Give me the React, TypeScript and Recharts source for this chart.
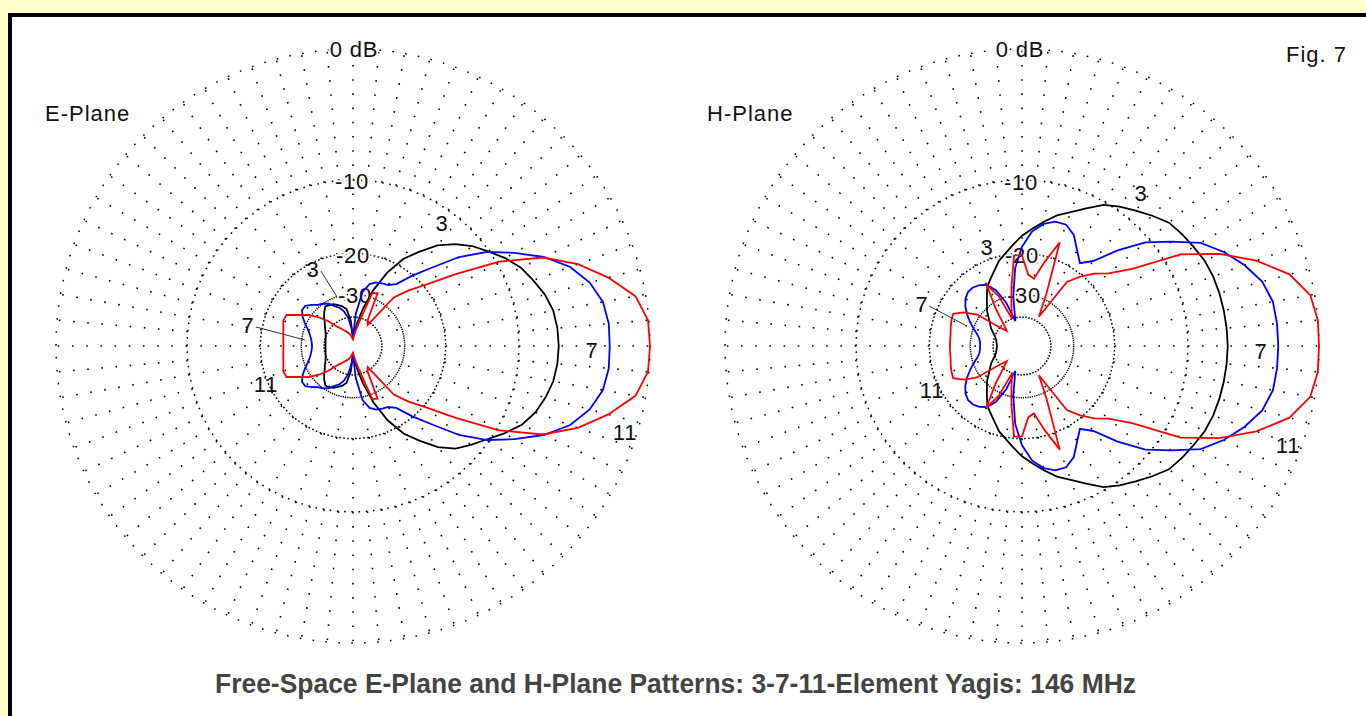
import React from "react";
import {
  RadarChart,
  Radar,
  PolarGrid,
  PolarAngleAxis,
  PolarRadiusAxis,
} from "recharts";

// bearing in degrees, counter-clockwise from boresight (pointing right)
const ANGLES = [
  0, 5, 10, 15, 20, 25, 30, 35, 40, 45, 50, 55, 60, 65, 70, 75, 80, 85, 90,
  95, 100, 105, 110, 115, 120, 125, 130, 135, 140, 145, 150, 155, 160, 165,
  170, 175, 180, 185, 190, 195, 200, 205, 210, 215, 220, 225, 230, 235, 240,
  245, 250, 255, 260, 265, 270, 275, 280, 285, 290, 295, 300, 305, 310, 315,
  320, 325, 330, 335, 340, 345, 350, 355,
];

// gain in dB relative to the 11-element peak
const E_PLANE_3EL = [
  -6.3, -6.35, -6.5, -6.9, -7.5, -8.1, -9.0, -10.1, -11.1, -12.4, -14.0, -16.3,
  -18.6, -22.3, -27.6, -35.0, -44.0, -52.0, -62.0, -42.0, -35.5, -34.0, -33.0,
  -32.0, -31.5, -31.2, -32.5, -34.0, -35.8, -37.0, -38.3, -39.2, -39.9, -40.3,
  -40.6, -40.8, -40.8, -40.8, -40.6, -40.3, -39.9, -39.2, -38.3, -37.0, -35.8,
  -34.0, -32.5, -31.2, -31.5, -32.0, -33.0, -34.0, -35.5, -42.0, -62.0, -52.0,
  -44.0, -35.0, -27.4, -22.1, -18.5, -16.2, -13.9, -12.3, -11.3, -10.3, -9.1,
  -8.0, -7.3, -6.85, -6.5, -6.35,
];
const E_PLANE_7EL = [
  -2.5, -2.5, -2.7, -3.3, -4.3, -5.9, -8.0, -10.2, -13.1, -17.0, -20.2, -23.5,
  -24.7, -25.0, -25.4, -26.3, -29.0, -38.0, -60.0, -48.0, -40.0, -36.0, -34.0,
  -32.8, -31.0, -30.0, -29.3, -28.0, -26.8, -26.8, -28.0, -29.6, -31.3, -32.5,
  -33.3, -33.8, -34.0, -33.8, -33.3, -32.5, -31.3, -29.6, -28.0, -26.8, -26.8,
  -28.0, -29.3, -30.0, -31.0, -32.8, -34.0, -36.0, -40.0, -48.0, -60.0, -38.0,
  -29.0, -26.3, -25.4, -25.0, -24.7, -23.5, -20.2, -17.0, -13.1, -10.2, -8.0,
  -5.9, -4.3, -3.3, -2.7, -2.5,
];
const E_PLANE_11EL = [
  0.0, -0.05, -0.6, -2.0, -3.7, -6.0, -9.7, -14.8, -19.5, -22.8, -26.5, -42.0,
  -40.0, -28.0, -28.5, -42.0, -50.0, -58.0, -65.0, -62.0, -58.0, -55.0, -52.0,
  -50.0, -48.0, -45.0, -42.0, -36.5, -32.5, -29.2, -26.9, -24.0, -23.8, -24.3,
  -24.6, -24.8, -24.9, -24.8, -24.6, -24.3, -23.8, -24.0, -26.9, -29.2, -32.5,
  -36.5, -42.0, -45.0, -48.0, -50.0, -52.0, -55.0, -58.0, -62.0, -65.0, -58.0,
  -50.0, -42.0, -28.5, -28.0, -40.0, -42.0, -26.5, -22.8, -19.5, -14.8, -9.7,
  -6.0, -3.7, -2.0, -0.6, -0.05,
];

const H_PLANE_3EL = [
  -6.3, -6.33, -6.37, -6.42, -6.5, -6.65, -6.95, -7.2, -7.5, -8.2, -8.9, -9.55,
  -10.3, -11.5, -12.6, -13.5, -14.7, -15.9, -17.0, -18.4, -19.7, -20.8, -22.4,
  -23.8, -25.0, -27.1, -29.1, -30.8, -33.0, -34.8, -36.3, -38.2, -40.0, -41.2,
  -41.8, -42.2, -42.4, -42.2, -41.8, -41.2, -40.0, -38.2, -36.3, -34.8, -33.0,
  -30.8, -29.1, -27.1, -25.0, -23.8, -22.4, -20.8, -19.7, -18.4, -17.0, -15.9,
  -14.7, -13.5, -12.6, -11.5, -10.3, -9.55, -8.9, -8.2, -7.5, -7.2, -6.95,
  -6.65, -6.5, -6.42, -6.37, -6.33,
];
const H_PLANE_7EL = [
  -2.53, -2.55, -2.63, -3.05, -3.9, -4.95, -6.25, -8.4, -10.5, -13.5, -16.9,
  -18.5, -17.0, -15.2, -14.3, -14.35, -15.0, -16.3, -18.8, -22.9, -30.5, -42.0,
  -32.0, -27.0, -24.7, -23.8, -23.3, -23.3, -23.9, -25.0, -26.5, -28.2, -30.0,
  -31.8, -33.0, -33.5, -33.6, -33.5, -33.0, -31.8, -30.0, -28.2, -26.5, -25.0,
  -23.9, -23.3, -23.3, -23.8, -24.7, -27.0, -32.0, -42.0, -30.5, -22.9, -18.8,
  -16.3, -15.0, -14.35, -14.3, -15.2, -17.0, -18.5, -16.9, -13.5, -10.5, -8.4,
  -6.25, -4.95, -3.9, -3.05, -2.63, -2.55,
];
const H_PLANE_11EL = [
  0.0, 0.0, -0.25, -1.2, -3.0, -5.3, -8.3, -13.6, -16.6, -18.3, -20.4, -22.9,
  -37.3, -28.0, -17.0, -21.1, -25.2, -24.4, -20.4, -20.3, -27.3, -34.1, -40.0,
  -29.0, -24.5, -32.0, -40.0, -45.0, -40.0, -29.0, -25.5, -23.4, -23.6, -23.9,
  -24.2, -24.3, -24.3, -24.3, -24.2, -23.9, -23.6, -23.4, -25.5, -29.0, -40.0,
  -45.0, -40.0, -32.0, -24.5, -29.0, -40.0, -34.1, -27.3, -20.3, -20.4, -24.4,
  -25.2, -21.1, -17.0, -28.0, -37.3, -22.9, -20.4, -18.3, -16.6, -13.6, -8.3,
  -5.3, -3.0, -1.2, -0.25, 0.0,
];

const RING_DB = [0, -10, -20, -30, -40];
const RING_LABELS = ["0 dB", "-10", "-20", "-30"];

const PLOT = 600;
const OUTER = 297;
const FONT = "'Liberation Sans', Arial, sans-serif";

// ARRL log-periodic scale: every 2 dB shrinks the radius to 0.89
const arrl = (db: number) => Math.pow(0.89, -db / 2);

const buildRows = (el3: number[], el7: number[], el11: number[]) =>
  ANGLES.map((angle, i) => ({
    angle,
    el3: arrl(el3[i]),
    el7: arrl(el7[i]),
    el11: arrl(el11[i]),
  }));

const E_ROWS = buildRows(E_PLANE_3EL, E_PLANE_7EL, E_PLANE_11EL);
const H_ROWS = buildRows(H_PLANE_3EL, H_PLANE_7EL, H_PLANE_11EL);

const SPOKE_BANDS = [
  { innerDb: -10, outerDb: 0, angles: ANGLES, dash: "1.6 12.6" },
  { innerDb: -20, outerDb: -10, angles: ANGLES.filter((a) => a % 10 === 0), dash: "1.6 13" },
  { innerDb: -32, outerDb: -20, angles: ANGLES.filter((a) => a % 20 === 0), dash: "1.6 11" },
];

type Row = { angle: number; el3: number; el7: number; el11: number };

function Layer({ cx, cy, children }: { cx: number; cy: number; children: React.ReactNode }) {
  return (
    <div
      style={{
        position: "absolute",
        left: cx - PLOT / 2,
        top: cy - PLOT / 2,
        width: PLOT,
        height: PLOT,
      }}
    >
      {children}
    </div>
  );
}

const chartProps = (rows: Row[]) => ({
  width: PLOT,
  height: PLOT,
  cx: PLOT / 2,
  cy: PLOT / 2,
  startAngle: 0,
  endAngle: 360,
  margin: { top: 0, right: 0, bottom: 0, left: 0 },
  data: rows,
});

function PlotGrid({ cx, cy, rows }: { cx: number; cy: number; rows: Row[] }) {
  return (
    <>
      {SPOKE_BANDS.map((band) => (
        <Layer key={band.innerDb} cx={cx} cy={cy}>
          <RadarChart
            {...chartProps(rows)}
            innerRadius={OUTER * arrl(band.innerDb)}
            outerRadius={OUTER * arrl(band.outerDb)}
          >
            <PolarGrid
              gridType="circle"
              polarAngles={band.angles}
              polarRadius={[]}
              stroke="#000"
              strokeWidth={1.6}
              strokeDasharray={band.dash}
            />
          </RadarChart>
        </Layer>
      ))}
      <Layer cx={cx} cy={cy}>
        <RadarChart {...chartProps(rows)} innerRadius={0} outerRadius={OUTER}>
          {RING_DB.map((db) => {
            const r = OUTER * arrl(db);
            // small rings get fewer dots so they stay dotted
            const count = r < 40 ? 60 : 144;
            const step = (2 * Math.PI * r) / count;
            const dot = Math.min(1.6, step * 0.55);
            return (
              <PolarGrid
                key={db}
                gridType="circle"
                radialLines={false}
                polarAngles={[]}
                polarRadius={[r]}
                stroke="#000"
                strokeWidth={1.5}
                strokeDasharray={`${dot} ${step - dot}`}
              />
            );
          })}
        </RadarChart>
      </Layer>
    </>
  );
}

function PlotData({ cx, cy, rows }: { cx: number; cy: number; rows: Row[] }) {
  return (
    <Layer cx={cx} cy={cy}>
      <RadarChart {...chartProps(rows)} innerRadius={0} outerRadius={OUTER}>
        <PolarAngleAxis
          dataKey="angle"
          type="number"
          domain={[0, 360]}
          tick={false}
          tickLine={false}
          axisLine={false}
        />
        <PolarRadiusAxis type="number" domain={[0, 1]} tick={false} axisLine={false} />
        <Radar dataKey="el3" stroke="#000000" strokeWidth={1.8} fill="none" dot={false} isAnimationActive={false} />
        <Radar dataKey="el7" stroke="#0000ff" strokeWidth={1.8} fill="none" dot={false} isAnimationActive={false} />
        <Radar dataKey="el11" stroke="#ff0000" strokeWidth={1.8} fill="none" dot={false} isAnimationActive={false} />
      </RadarChart>
    </Layer>
  );
}

const CENTERS = [
  { cx: 353, cy: 346, rows: E_ROWS },
  { cx: 1022, cy: 346, rows: H_ROWS },
];

const RING_LABEL_POS = [
  [
    [354, 57],
    [352, 189],
    [353, 263],
    [355, 303],
  ],
  [
    [1020, 57],
    [1021, 190],
    [1022, 263],
    [1024, 303],
  ],
];

const CURVE_LABELS = [
  { t: "3", x: 442, y: 231 },
  { t: "3", x: 313, y: 277 },
  { t: "7", x: 248, y: 333 },
  { t: "11", x: 266, y: 392 },
  { t: "7", x: 592, y: 358 },
  { t: "11", x: 625, y: 440 },
  { t: "3", x: 1141, y: 201 },
  { t: "3", x: 987, y: 255 },
  { t: "7", x: 922, y: 312 },
  { t: "11", x: 932, y: 398 },
  { t: "7", x: 1261, y: 359 },
  { t: "11", x: 1288, y: 453 },
];

const LEADERS = [
  [321, 271, 337, 297],
  [256, 327, 305, 340],
  [929, 306, 965, 325],
];

export default function App() {
  return (
    <div
      style={{
        position: "absolute",
        left: 0,
        top: 0,
        width: 1366,
        height: 716,
        background: "#ffffcc",
        overflow: "hidden",
        fontFamily: FONT,
      }}
    >
      <div
        style={{
          position: "absolute",
          left: 8,
          top: 13,
          width: 1420,
          height: 800,
          background: "#ffffff",
          borderLeft: "4px solid #000",
          borderTop: "4px solid #000",
        }}
      />
      {CENTERS.map((c) => (
        <PlotGrid key={c.cx} cx={c.cx} cy={c.cy} rows={c.rows} />
      ))}
      <svg width={1366} height={716} style={{ position: "absolute", left: 0, top: 0 }}>
        {RING_LABEL_POS.map((plot, p) =>
          plot.map(([x, y], i) => (
            <text
              key={`${p}-${i}`}
              x={x}
              y={y}
              textAnchor="middle"
              fontSize={22}
              letterSpacing={0.8}
              fontFamily={FONT}
              fill="#111"
              stroke="#fff"
              strokeWidth={4}
              paintOrder="stroke"
            >
              {RING_LABELS[i]}
            </text>
          ))
        )}
      </svg>
      {CENTERS.map((c) => (
        <PlotData key={c.cx} cx={c.cx} cy={c.cy} rows={c.rows} />
      ))}
      <svg width={1366} height={716} style={{ position: "absolute", left: 0, top: 0 }}>
        {LEADERS.map(([x1, y1, x2, y2], i) => (
          <line key={i} x1={x1} y1={y1} x2={x2} y2={y2} stroke="#333" strokeWidth={1} />
        ))}
        {CURVE_LABELS.map((l, i) => (
          <text key={i} x={l.x} y={l.y} textAnchor="middle" fontSize={22} letterSpacing={0.8} fontFamily={FONT} fill="#111">
            {l.t}
          </text>
        ))}
        <text x={45} y={121} fontSize={22} letterSpacing={1} fontFamily={FONT} fill="#111">
          E-Plane
        </text>
        <text x={707} y={121} fontSize={22} letterSpacing={1} fontFamily={FONT} fill="#111">
          H-Plane
        </text>
        <text x={1286} y={62} fontSize={22} letterSpacing={1} fontFamily={FONT} fill="#111">
          Fig. 7
        </text>
        <text
          x={215}
          y={693}
          fontSize={28}
          fontWeight={700}
          fontFamily={FONT}
          fill="#444"
          textLength={921}
          lengthAdjust="spacingAndGlyphs"
        >
          Free-Space E-Plane and H-Plane Patterns: 3-7-11-Element Yagis: 146 MHz
        </text>
      </svg>
    </div>
  );
}
